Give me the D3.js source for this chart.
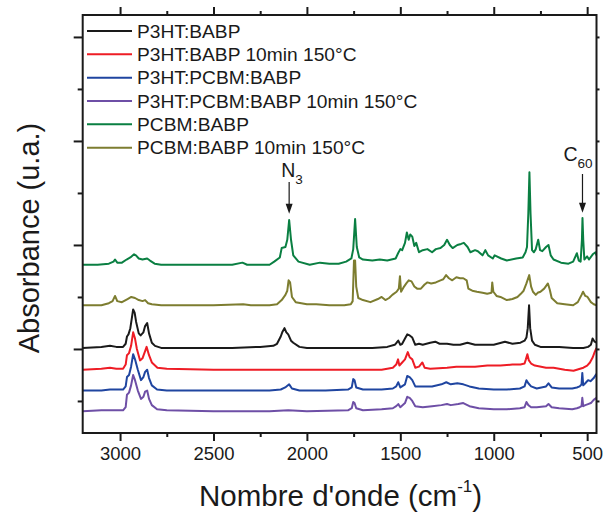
<!DOCTYPE html>
<html>
<head>
<meta charset="utf-8">
<script src="https://cdn.jsdelivr.net/npm/d3@7"></script>
<style>
  html, body { margin: 0; padding: 0; background: #fff; }
  svg { display: block; font-family: "Liberation Sans", Arial, sans-serif; }
</style>
</head>
<body>
<svg id="chart" width="608" height="521"></svg>
<script>
// FTIR spectra, absorbance in arbitrary units (curves offset vertically)
const seriesNames = [
  "P3HT:BABP",
  "P3HT:BABP 10min 150°C",
  "P3HT:PCBM:BABP",
  "P3HT:PCBM:BABP 10min 150°C",
  "PCBM:BABP",
  "PCBM:BABP 10min 150°C"
];
const seriesColors = ["#1a1a1a", "#ee1c25", "#1f45a0", "#6e4fa6", "#0a7f42", "#7d7d30"];

// [wavenumber (cm-1), absorbance]
const p3htBabp = [[3200,1.01],[3100,1.02],[3054,1.03],[3020,1.02],[2984,1.02],[2970,1.05],[2963,1.12],[2955,1.14],[2945,1.20],[2930,1.38],[2922,1.35],[2914,1.26],[2900,1.15],[2890,1.13],[2875,1.16],[2866,1.22],[2855,1.25],[2845,1.15],[2830,1.06],[2813,1.03],[2780,1.01],[2600,1.01],[2400,1.01],[2250,1.02],[2180,1.03],[2160,1.05],[2140,1.12],[2132,1.16],[2120,1.20],[2110,1.16],[2100,1.14],[2085,1.08],[2073,1.06],[2040,1.02],[2000,1.01],[1800,1.01],[1650,1.01],[1570,1.02],[1530,1.04],[1520,1.06],[1511,1.08],[1500,1.04],[1490,1.05],[1475,1.10],[1463,1.14],[1450,1.13],[1436,1.11],[1420,1.04],[1400,1.05],[1380,1.04],[1360,1.05],[1340,1.06],[1313,1.07],[1290,1.05],[1250,1.05],[1216,1.04],[1180,1.04],[1141,1.06],[1100,1.04],[1050,1.04],[1000,1.04],[940,1.07],[900,1.05],[857,1.06],[835,1.08],[825,1.11],[818,1.20],[811,1.42],[805,1.20],[795,1.08],[780,1.04],[750,1.02],[700,1.02],[650,1.02],[575,1.01],[520,1.01],[495,1.02],[480,1.04],[471,1.10],[460,1.07],[450,1.06]];

const p3htBabpAnnealed = [[3200,0.80],[3100,0.81],[3054,0.82],[3020,0.81],[2984,0.81],[2970,0.85],[2963,0.94],[2952,0.96],[2941,1.03],[2930,1.16],[2920,1.10],[2910,1.00],[2893,0.89],[2880,0.91],[2866,0.98],[2858,1.02],[2845,0.94],[2830,0.87],[2800,0.82],[2750,0.81],[2500,0.80],[2200,0.80],[2000,0.80],[1800,0.80],[1600,0.80],[1540,0.82],[1522,0.85],[1512,0.90],[1505,0.84],[1495,0.86],[1475,0.90],[1460,0.97],[1450,0.92],[1436,0.90],[1420,0.82],[1400,0.83],[1382,0.87],[1370,0.82],[1340,0.81],[1250,0.82],[1200,0.83],[1100,0.83],[1034,0.84],[964,0.84],[900,0.85],[857,0.85],[835,0.86],[828,0.90],[820,0.95],[812,0.89],[800,0.86],[780,0.84],[720,0.82],[680,0.82],[620,0.80],[573,0.79],[520,0.82],[500,0.84],[485,0.87],[470,0.92],[460,0.97],[450,1.01]];

const p3htPcbmBabp = [[3200,0.60],[3100,0.60],[3054,0.61],[3020,0.61],[2984,0.61],[2970,0.64],[2963,0.73],[2952,0.75],[2941,0.83],[2930,0.95],[2920,0.90],[2905,0.80],[2888,0.70],[2875,0.73],[2866,0.78],[2855,0.80],[2845,0.72],[2830,0.65],[2802,0.61],[2750,0.60],[2500,0.60],[2200,0.60],[2140,0.61],[2116,0.63],[2095,0.66],[2080,0.62],[2040,0.60],[1900,0.60],[1780,0.61],[1760,0.63],[1752,0.71],[1745,0.70],[1736,0.63],[1700,0.61],[1600,0.61],[1540,0.62],[1522,0.64],[1511,0.68],[1500,0.63],[1475,0.66],[1463,0.74],[1450,0.73],[1436,0.70],[1420,0.64],[1380,0.64],[1330,0.64],[1280,0.66],[1254,0.68],[1230,0.66],[1195,0.67],[1163,0.66],[1130,0.64],[1080,0.62],[1000,0.61],[930,0.61],[860,0.62],[835,0.64],[825,0.70],[815,0.67],[800,0.64],[770,0.62],[720,0.64],[707,0.67],[690,0.63],[650,0.62],[580,0.62],[555,0.63],[540,0.64],[530,0.66],[526,0.77],[521,0.65],[510,0.67],[495,0.70],[482,0.69],[465,0.72],[450,0.76]];

const p3htPcbmBabpAnnealed = [[3200,0.40],[3100,0.41],[3054,0.41],[3020,0.41],[2984,0.41],[2970,0.44],[2963,0.56],[2952,0.58],[2941,0.65],[2930,0.75],[2920,0.70],[2905,0.60],[2888,0.52],[2875,0.54],[2866,0.59],[2855,0.60],[2845,0.52],[2830,0.46],[2802,0.42],[2750,0.41],[2500,0.40],[2200,0.40],[2100,0.41],[2000,0.40],[1780,0.41],[1760,0.43],[1752,0.49],[1745,0.48],[1736,0.43],[1700,0.41],[1600,0.42],[1540,0.43],[1522,0.45],[1511,0.47],[1500,0.44],[1475,0.48],[1463,0.54],[1450,0.53],[1436,0.50],[1420,0.45],[1380,0.44],[1330,0.45],[1280,0.46],[1250,0.47],[1230,0.46],[1190,0.47],[1163,0.48],[1130,0.45],[1080,0.43],[1000,0.42],[930,0.42],[860,0.43],[835,0.44],[825,0.49],[815,0.46],[800,0.44],[770,0.44],[720,0.45],[707,0.47],[690,0.44],[650,0.43],[580,0.42],[555,0.43],[540,0.44],[530,0.45],[526,0.53],[521,0.45],[510,0.46],[495,0.47],[480,0.48],[465,0.51],[450,0.53]];

const pcbmBabp = [[3200,1.81],[3120,1.81],[3060,1.82],[3035,1.84],[3027,1.86],[3015,1.83],[2990,1.83],[2965,1.86],[2945,1.88],[2925,1.91],[2915,1.90],[2900,1.87],[2880,1.86],[2855,1.87],[2840,1.85],[2815,1.82],[2780,1.81],[2600,1.81],[2400,1.81],[2345,1.83],[2320,1.81],[2200,1.81],[2175,1.84],[2145,1.88],[2135,1.97],[2115,1.98],[2105,2.05],[2095,2.24],[2085,2.05],[2073,1.90],[2045,1.84],[1985,1.81],[1930,1.83],[1880,1.82],[1830,1.82],[1790,1.84],[1762,1.87],[1752,1.96],[1742,2.25],[1733,1.98],[1720,1.88],[1700,1.86],[1650,1.85],[1610,1.86],[1570,1.85],[1525,1.87],[1512,1.92],[1500,1.96],[1490,1.95],[1475,2.02],[1465,2.12],[1455,2.05],[1447,2.10],[1436,2.08],[1425,1.99],[1415,2.02],[1400,1.93],[1380,1.95],[1355,1.96],[1330,1.93],[1310,1.96],[1285,1.97],[1265,2.00],[1250,2.05],[1235,2.00],[1220,1.97],[1195,2.00],[1175,2.01],[1160,2.02],[1140,1.98],[1125,1.93],[1100,1.95],[1085,1.94],[1060,1.90],[1045,1.95],[1030,1.90],[1005,1.87],[995,1.90],[960,1.87],[930,1.85],[880,1.87],[845,1.88],[830,1.93],[822,1.98],[815,2.30],[809,2.70],[803,2.30],[795,1.95],[785,1.93],[775,1.96],[762,2.05],[752,1.95],[740,1.94],[720,1.98],[707,2.00],[695,1.90],[680,1.86],[640,1.83],[600,1.82],[575,1.84],[555,1.92],[545,1.85],[535,1.84],[528,2.05],[525,2.26],[521,2.05],[515,1.86],[500,1.89],[490,1.86],[470,1.91],[455,1.93],[450,1.90]];

const pcbmBabpAnnealed = [[3200,1.42],[3100,1.42],[3060,1.44],[3040,1.46],[3027,1.51],[3015,1.46],[2990,1.45],[2960,1.48],[2940,1.50],[2920,1.49],[2900,1.47],[2880,1.46],[2866,1.47],[2850,1.44],[2830,1.43],[2780,1.42],[2500,1.42],[2341,1.43],[2300,1.42],[2200,1.42],[2160,1.43],[2135,1.47],[2115,1.52],[2105,1.56],[2098,1.66],[2090,1.64],[2080,1.50],[2060,1.45],[2000,1.43],[1950,1.43],[1880,1.42],[1800,1.42],[1765,1.43],[1755,1.46],[1748,1.85],[1742,1.85],[1736,1.60],[1725,1.49],[1700,1.47],[1660,1.45],[1620,1.48],[1600,1.50],[1580,1.47],[1560,1.49],[1543,1.52],[1520,1.55],[1508,1.58],[1502,1.70],[1496,1.55],[1480,1.60],[1468,1.63],[1455,1.66],[1440,1.65],[1425,1.60],[1410,1.58],[1390,1.58],[1370,1.62],[1355,1.64],[1335,1.63],[1310,1.64],[1285,1.66],[1270,1.67],[1255,1.71],[1240,1.68],[1222,1.66],[1200,1.69],[1180,1.68],[1163,1.68],[1145,1.66],[1136,1.58],[1115,1.56],[1090,1.55],[1060,1.54],[1035,1.53],[1012,1.54],[1008,1.64],[1002,1.55],[985,1.51],[964,1.50],[930,1.47],[900,1.48],[873,1.50],[855,1.53],[840,1.56],[825,1.63],[810,1.71],[800,1.60],[790,1.55],[775,1.52],[765,1.54],[750,1.55],[730,1.58],[710,1.63],[700,1.57],[690,1.49],[660,1.44],[620,1.43],[575,1.42],[550,1.45],[530,1.52],[522,1.55],[510,1.51],[498,1.50],[480,1.45],[465,1.43],[450,1.42]];

const spectra = [p3htBabp, p3htBabpAnnealed, p3htPcbmBabp, p3htPcbmBabpAnnealed, pcbmBabp, pcbmBabpAnnealed];

const xMajorTicks = [3000, 2500, 2000, 1500, 1000, 500];
const xMinorTicks = [2750, 2250, 1750, 1250, 750];
const yMajorTicks = [1, 2, 3, 4];
const yMinorTicks = [0.5, 1.5, 2.5, 3.5];

// Peak annotations: [label, subscript, wavenumber, arrow tip absorbance]
const peakLabels = [["N", "3", 2095, 2.30], ["C", "60", 525, 2.31]];

const svg = d3.select("#chart");
const margin = { left: 82.7, right: 596.5, top: 15, bottom: 433 };

const x = d3.scaleLinear().domain([3200, 450]).range([margin.left, margin.right]);
const y = d3.scaleLinear().domain([0.192, 4.211]).range([margin.bottom, margin.top]);

const clipId = "plotClip";
svg.append("clipPath").attr("id", clipId)
  .append("rect")
  .attr("x", margin.left).attr("y", margin.top)
  .attr("width", margin.right - margin.left).attr("height", margin.bottom - margin.top);

// spectra, lower traces drawn last so they sit on top where they touch
const line = d3.line().x(d => x(d[0])).y(d => y(d[1]));
const drawOrder = [5, 4, 3, 2, 1, 0];
const curves = svg.append("g").attr("clip-path", `url(#${clipId})`);
drawOrder.forEach(i => {
  curves.append("path")
    .datum(spectra[i])
    .attr("d", line)
    .attr("fill", "none")
    .attr("stroke", seriesColors[i])
    .attr("stroke-width", 2)
    .attr("stroke-linejoin", "round");
});

// axes: ticks on all four sides, outward
const axisColor = "#1a1a1a";
function styleAxis(g) {
  g.select(".domain").remove();
  g.selectAll(".tick line").attr("stroke", axisColor).attr("stroke-width", 2);
}
const bottomMajor = svg.append("g").attr("transform", `translate(0,${margin.bottom})`)
  .call(d3.axisBottom(x).tickValues(xMajorTicks).tickSize(8).tickPadding(6).tickFormat(d3.format("d")));
styleAxis(bottomMajor);
bottomMajor.selectAll("text").attr("font-size", 18.5).attr("fill", "#1a1a1a")
  .attr("font-family", "Liberation Sans, Arial, sans-serif");
const bottomMinor = svg.append("g").attr("transform", `translate(0,${margin.bottom})`)
  .call(d3.axisBottom(x).tickValues(xMinorTicks).tickSize(4).tickFormat(""));
styleAxis(bottomMinor);

const topMajor = svg.append("g").attr("transform", `translate(0,${margin.top})`)
  .call(d3.axisTop(x).tickValues(xMajorTicks).tickSize(8).tickFormat(""));
styleAxis(topMajor);
const topMinor = svg.append("g").attr("transform", `translate(0,${margin.top})`)
  .call(d3.axisTop(x).tickValues(xMinorTicks).tickSize(4).tickFormat(""));
styleAxis(topMinor);

const leftMajor = svg.append("g").attr("transform", `translate(${margin.left},0)`)
  .call(d3.axisLeft(y).tickValues(yMajorTicks).tickSize(9).tickFormat(""));
styleAxis(leftMajor);
const leftMinor = svg.append("g").attr("transform", `translate(${margin.left},0)`)
  .call(d3.axisLeft(y).tickValues(yMinorTicks).tickSize(5).tickFormat(""));
styleAxis(leftMinor);

const rightTicks = svg.append("g").attr("transform", `translate(${margin.right},0)`)
  .call(d3.axisRight(y).tickValues(yMajorTicks.concat(yMinorTicks)).tickSize(3).tickFormat(""));
styleAxis(rightTicks);

// frame
svg.append("rect")
  .attr("x", margin.left).attr("y", margin.top)
  .attr("width", margin.right - margin.left).attr("height", margin.bottom - margin.top)
  .attr("fill", "none").attr("stroke", axisColor).attr("stroke-width", 2);

// axis titles
const xTitle = svg.append("text")
  .attr("x", (margin.left + margin.right) / 2 + 1).attr("y", 506)
  .attr("text-anchor", "middle").attr("font-size", 29.5).attr("fill", "#1a1a1a");
xTitle.append("tspan").text("Nombre d'onde (cm");
xTitle.append("tspan").text("-1").attr("font-size", 17).attr("dy", -14);
xTitle.append("tspan").text(")").attr("dy", 14);

svg.append("text")
  .attr("transform", `translate(39,238) rotate(-90)`)
  .attr("text-anchor", "middle").attr("font-size", 29).attr("fill", "#1a1a1a")
  .text("Absorbance (u.a.)");

// legend
const legend = svg.append("g");
seriesNames.forEach((name, i) => {
  const ly = 31 + i * 23.33;
  legend.append("line")
    .attr("x1", 87).attr("x2", 132).attr("y1", ly).attr("y2", ly)
    .attr("stroke", seriesColors[i]).attr("stroke-width", 2);
  legend.append("text")
    .attr("x", 137).attr("y", ly + 6.8)
    .attr("font-size", 19.2).attr("fill", "#1a1a1a")
    .text(name);
});

// peak markers
peakLabels.forEach(([main, sub, wn, tip]) => {
  const px = x(wn);
  const g = svg.append("g");
  const label = g.append("text")
    .attr("x", main === "N" ? px - 8 : px - 19)
    .attr("y", main === "N" ? 177 : 161)
    .attr("font-size", 19.5).attr("fill", "#1a1a1a");
  label.append("tspan").text(main);
  label.append("tspan").text(sub).attr("font-size", 13.5).attr("dy", 7);
  const y0 = main === "N" ? 182 : 174;
  const yTip = y(tip);
  g.append("line")
    .attr("x1", px).attr("x2", px).attr("y1", y0).attr("y2", yTip - 8)
    .attr("stroke", "#1a1a1a").attr("stroke-width", 1.2);
  g.append("path")
    .attr("d", `M${px - 3.5},${yTip - 10} L${px + 3.5},${yTip - 10} L${px},${yTip} Z`)
    .attr("fill", "#1a1a1a");
});
</script>
</body>
</html>
